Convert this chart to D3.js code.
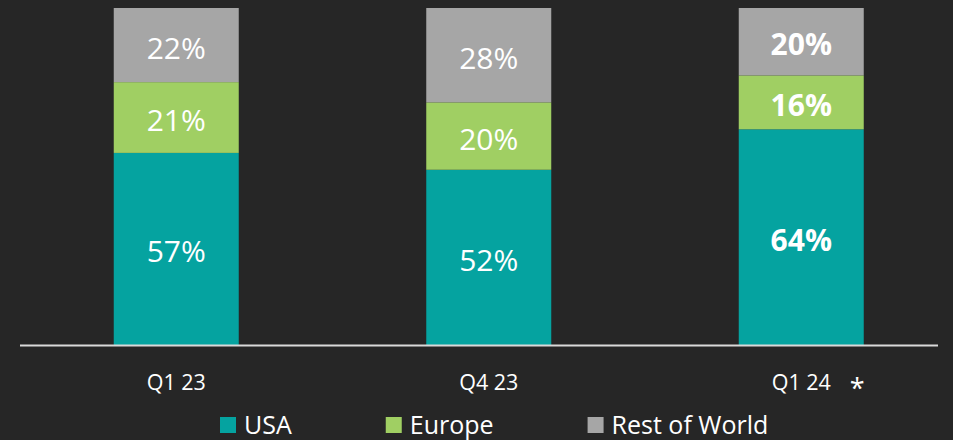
<!DOCTYPE html>
<html lang="en">
<head>
  <meta charset="utf-8">
  <title>Regional split</title>
  <script type="text/javascript" src="https://cdn.jsdelivr.net/npm/d3@7/dist/d3.min.js"></script>
  <style>
    html, body { margin: 0; padding: 0; background: #262626; }
    svg { display: block; font-family: "Open Sans", "Noto Sans", sans-serif; }
  </style>
</head>
<body>
  <script type="text/javascript">

  // data
  var quarters = ["Q1 23", "Q4 23", "Q1 24"];
  var usa = [57, 52, 64];
  var europe = [21, 20, 16];
  var restOfWorld = [22, 28, 20];
  var seriesNames = ["USA", "Europe", "Rest of World"];
  var seriesColors = ["#05a3a0", "#a0cf63", "#a6a6a6"];
  var boldQuarter = "Q1 24";   // last quarter drawn in bold
  var starredQuarter = "Q1 24";

  var width = 953;
  var height = 440;

  var rows = quarters.map((q, i) => ({
    quarter: q, "USA": usa[i], "Europe": europe[i], "Rest of World": restOfWorld[i]
  }));

  var svg = d3.select("body")
    .append("svg")
    .attr("width", width)
    .attr("height", height)
    .attr("viewBox", [0, 0, width, height]);

  var x = d3.scaleBand()
    .domain(quarters)
    .range([20, 957.5])
    .paddingInner(0.6)
    .paddingOuter(0.3);

  var y = d3.scaleLinear()
    .domain([0, 100])
    .range([345, 8]);

  var color = d3.scaleOrdinal().domain(seriesNames).range(seriesColors);

  var stacked = d3.stack().keys(seriesNames)(rows);

  var layers = svg.append("g")
    .selectAll("g")
    .data(stacked)
    .join("g")
    .attr("fill", d => color(d.key));

  layers.selectAll("rect")
    .data(d => d)
    .join("rect")
    .attr("x", d => x(d.data.quarter))
    .attr("y", d => y(d[1]))
    .attr("width", x.bandwidth())
    .attr("height", d => y(d[0]) - y(d[1]));

  layers.selectAll("text")
    .data(d => d.map(v => Object.assign({ key: d.key }, v)))
    .join("text")
    .attr("x", d => x(d.data.quarter) + x.bandwidth() / 2)
    .attr("y", d => (y(d[0]) + y(d[1])) / 2 + 2)
    .attr("text-anchor", "middle")
    .attr("dominant-baseline", "central")
    .attr("fill", "#ffffff")
    .attr("font-size", "30px")
    .attr("font-weight", d => d.data.quarter === boldQuarter ? 700 : 400)
    .text(d => (d[1] - d[0]) + "%");

  // x axis: baseline + labels
  svg.append("line")
    .attr("x1", 20)
    .attr("x2", 938)
    .attr("y1", y(0) + 0.5)
    .attr("y2", y(0) + 0.5)
    .attr("stroke", "#d9d9d9")
    .attr("stroke-width", 2);

  var xAxis = svg.append("g")
    .attr("transform", `translate(0,${y(0)})`)
    .call(d3.axisBottom(x).tickSize(0).tickPadding(0));
  xAxis.select(".domain").remove();
  xAxis.selectAll("text")
    .attr("y", 37)
    .attr("dy", "0.35em")
    .attr("fill", "#ffffff")
    .attr("font-size", "21.5px")
    .attr("font-family", "Open Sans, Noto Sans, sans-serif");

  svg.append("text")
    .attr("x", x(starredQuarter) + x.bandwidth() / 2 + 56)
    .attr("y", y(0) + 53)
    .attr("text-anchor", "middle")
    .attr("fill", "#ffffff")
    .attr("font-size", "27px")
    .text("*");

  // legend
  var legend = svg.append("g").attr("transform", "translate(220,425)");
  var lx = 0;
  seriesNames.forEach(function(name) {
    var item = legend.append("g").attr("transform", `translate(${lx},0)`);
    item.append("rect")
      .attr("x", 0)
      .attr("y", -8)
      .attr("width", 16)
      .attr("height", 16)
      .attr("fill", color(name));
    var t = item.append("text")
      .attr("x", 24)
      .attr("dy", "0.35em")
      .attr("fill", "#ffffff")
      .attr("font-size", "25px")
      .text(name);
    lx += 24 + t.node().getComputedTextLength() + 94;
  });

  </script>
</body>
</html>
